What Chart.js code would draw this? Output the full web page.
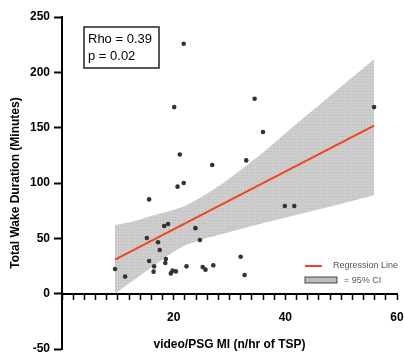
<!DOCTYPE html>
<html>
<head>
<meta charset="utf-8">
<script src="https://cdn.jsdelivr.net/npm/chart.js@4.4.1/dist/chart.umd.min.js"></script>
<style>
  html, body { margin: 0; padding: 0; background: #fff; }
</style>
</head>
<body>
<canvas id="chart" width="404" height="354"></canvas>
<script>
// scatter: video/PSG MI vs total wake duration
const miX = [9.5, 11.3, 15.6, 20.7, 21.8, 15.2, 18.3, 19.0, 17.2, 17.5, 15.6, 16.5,
    16.4, 18.6, 18.5, 19.5, 19.8, 20.4, 22.3, 23.9, 24.7, 25.2, 25.7, 27.1,
    32.0, 32.7, 39.9, 41.6, 21.8, 20.1, 34.5, 36.0, 21.1, 26.9, 33.0, 55.9];
const wakeY = [22.3, 15.4, 85.2, 96.7, 100, 50.3, 61.2, 63, 46.4, 39.5, 29.5, 24.7,
    19.9, 31.3, 27.7, 18.3, 20.8, 20.1, 24.7, 59.2, 48.5, 24.1, 21.7, 25.6,
    33.4, 16.9, 79.2, 79.2, 225.8, 168.6, 176.1, 146.1, 125.8, 116.2, 120.4, 168.6];

// regression line ends
const fitX = [9.5, 55.9];
const fitY = [30.7, 151.9];

// 95% CI band
const ciX = [9.5, 12.5, 16.6, 21.4, 24.5, 27.4, 31, 35.4, 42.6, 49, 55.9];
const ciUpper = [62, 65, 71, 78, 86, 95, 108, 125, 156, 183, 212];
const ciLower = [0, 11, 26, 42, 48, 52, 57, 63, 72, 80, 89];

const xLabelTicks = [20, 40, 60];
const statLines = ["Rho = 0.39", "p = 0.02"];
const legendLabels = ["Regression Line", "= 95% CI"];

const FONT = '"Liberation Sans", Arial, sans-serif';
const toPoints = (xs, ys) => xs.map((x, i) => ({ x: x, y: ys[i] }));

// dotted grey fill like the original band
function makeDots() {
    const c = document.createElement("canvas");
    c.width = 3;
    c.height = 3;
    const g = c.getContext("2d");
    g.fillStyle = "#cdcdcd";
    g.fillRect(0, 0, 3, 3);
    g.fillStyle = "#bababa";
    g.fillRect(1, 1, 1, 1);
    return g.createPattern(c, "repeat");
}

const overlay = {
    id: "overlay",
    afterDatasetsDraw(chart) {
        const ctx = chart.ctx;
        ctx.save();
        // stats box
        ctx.strokeStyle = "#222";
        ctx.lineWidth = 1.5;
        ctx.strokeRect(84, 27, 75, 41);
        ctx.fillStyle = "#000";
        ctx.font = "13px " + FONT;
        ctx.textBaseline = "middle";
        ctx.fillText(statLines[0], 88, 39);
        ctx.fillText(statLines[1], 88, 56);

        // legend
        ctx.strokeStyle = "#f4431f";
        ctx.lineWidth = 2;
        ctx.beginPath();
        ctx.moveTo(305, 266);
        ctx.lineTo(322, 266);
        ctx.stroke();
        ctx.fillStyle = "#bdbdbd";
        ctx.fillRect(305, 277, 32, 6);
        ctx.strokeStyle = "#444";
        ctx.lineWidth = 1;
        ctx.strokeRect(305, 277, 32, 6);
        ctx.fillStyle = "#555";
        ctx.font = "9px " + FONT;
        ctx.fillText(legendLabels[0], 333, 266);
        ctx.fillText(legendLabels[1], 344, 281);
        ctx.restore();
    }
};

new Chart(document.getElementById("chart"), {
    type: "scatter",
    data: {
        datasets: [
            {
                data: toPoints(miX, wakeY),
                backgroundColor: "#333",
                borderWidth: 0,
                pointRadius: 2.3,
            },
            {
                data: toPoints(fitX, fitY),
                showLine: true,
                borderColor: "#f4431f",
                borderWidth: 2,
                pointRadius: 0,
            },
            {
                data: toPoints(ciX, ciUpper),
                showLine: true,
                borderWidth: 0,
                pointRadius: 0,
                cubicInterpolationMode: "monotone",
                fill: "+1",
                backgroundColor: makeDots(),
            },
            {
                data: toPoints(ciX, ciLower),
                showLine: true,
                borderWidth: 0,
                pointRadius: 0,
                cubicInterpolationMode: "monotone",
            },
        ],
    },
    options: {
        responsive: false,
        animation: false,
        layout: { padding: { top: 17, right: 7, left: 0, bottom: 5 } },
        plugins: {
            legend: { display: false },
            tooltip: { enabled: false },
        },
        scales: {
            x: {
                type: "linear",
                position: { y: 0 },
                min: 0,
                max: 60,
                afterFit: (scale) => { scale.paddingLeft = 0; scale.paddingRight = 0; },
                border: { color: "#000", width: 2 },
                grid: { drawOnChartArea: false, drawTicks: true, tickLength: 5, tickWidth: 1.5, tickColor: "#000" },
                ticks: {
                    stepSize: 2,
                    autoSkip: false,
                    maxRotation: 0,
                    padding: 12,
                    color: "#000",
                    font: { family: FONT, size: 12, weight: "bold" },
                    callback: (v) => (xLabelTicks.includes(v) ? String(v) : ""),
                },
                title: {
                    display: true,
                    text: "video/PSG MI (n/hr of TSP)",
                    color: "#000",
                    font: { family: FONT, size: 12, weight: "bold" },
                    padding: { top: 0, bottom: 0 },
                },
            },
            y: {
                type: "linear",
                position: "left",
                min: -50,
                max: 250,
                afterFit: (scale) => {
                    scale.width = 62;
                    scale.paddingTop = 0;
                    scale.paddingBottom = 0;
                },
                border: { color: "#000", width: 2 },
                grid: { drawOnChartArea: false, drawTicks: true, tickLength: 8, tickWidth: 2, tickColor: "#000" },
                ticks: {
                    stepSize: 50,
                    padding: 4,
                    color: "#000",
                    font: { family: FONT, size: 12, weight: "bold" },
                },
                title: {
                    display: true,
                    text: "Total Wake Duration (Minutes)",
                    color: "#000",
                    font: { family: FONT, size: 12, weight: "bold" },
                    padding: { top: 8, bottom: 0 },
                },
            },
        },
    },
    plugins: [overlay],
});
</script>
</body>
</html>
